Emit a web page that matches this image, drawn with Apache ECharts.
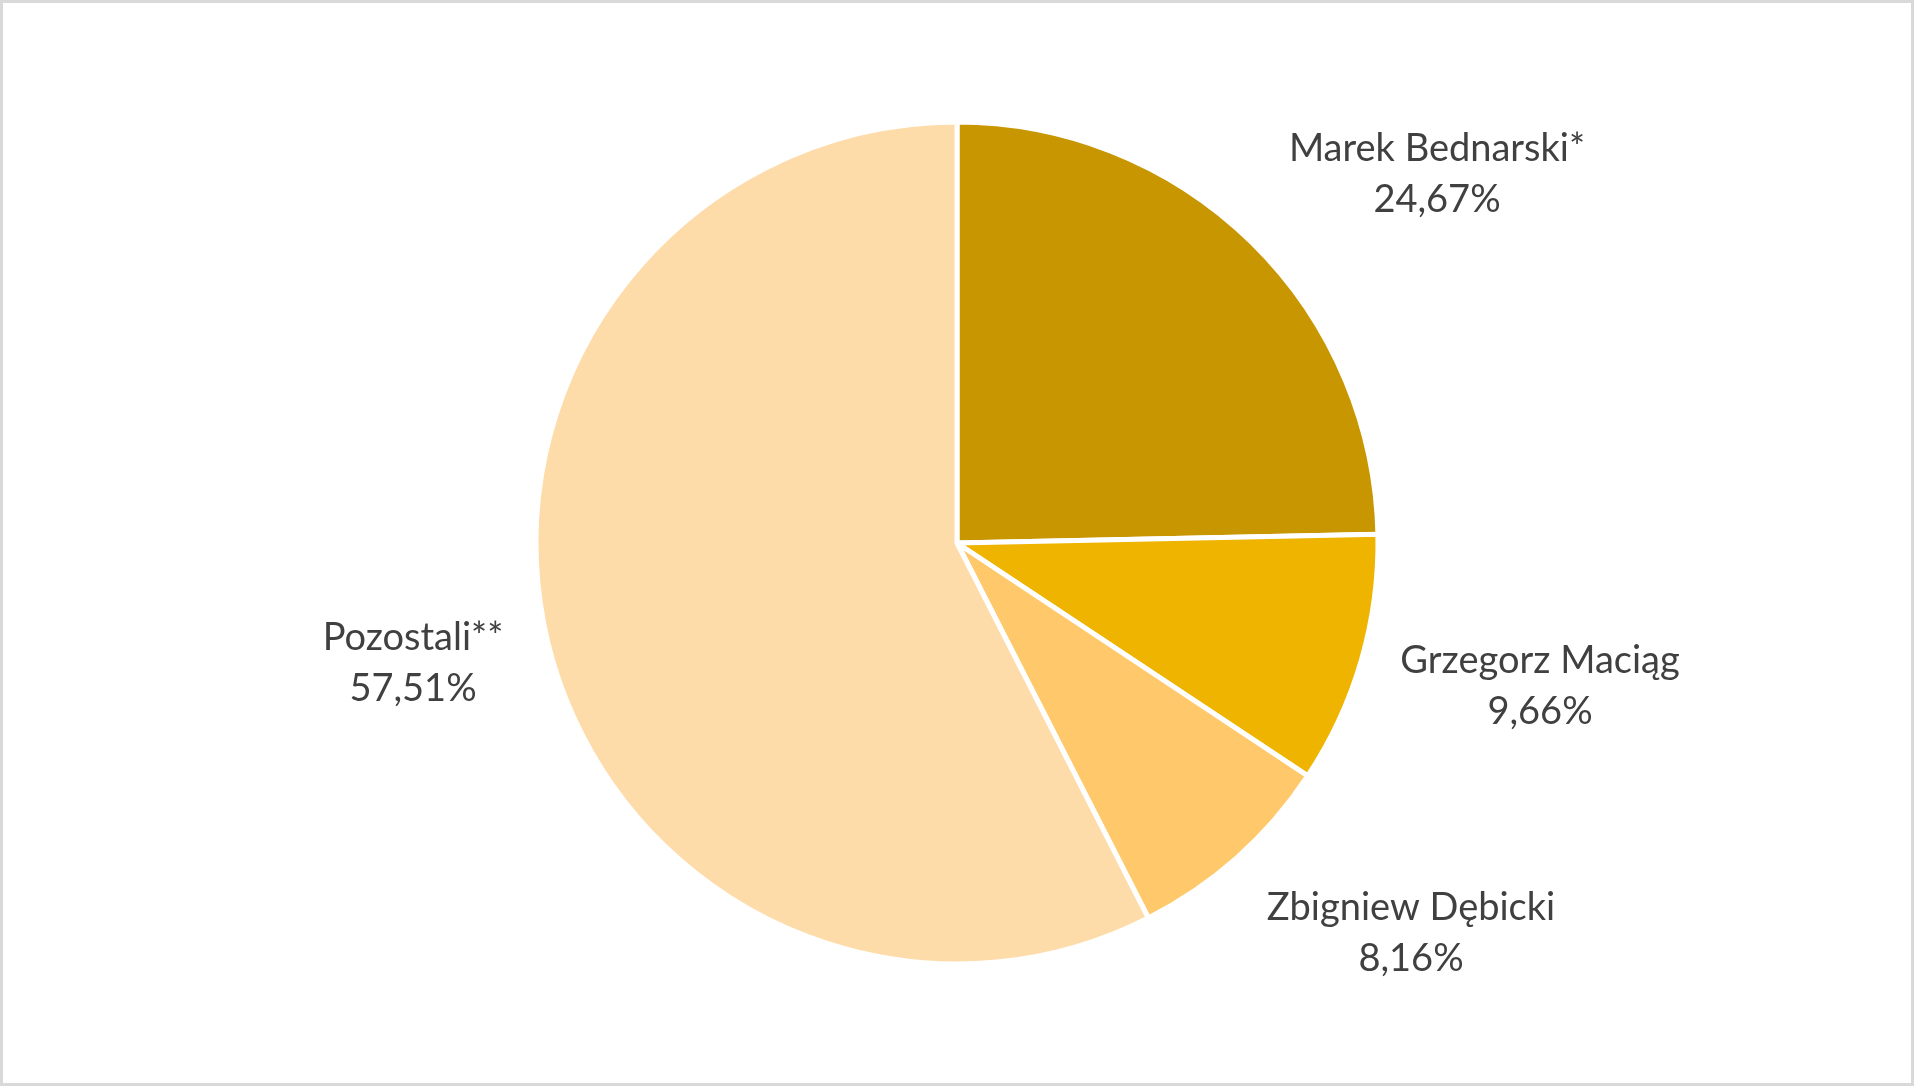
<!DOCTYPE html>
<html>
<head>
<meta charset="utf-8">
<script src="https://cdn.jsdelivr.net/npm/echarts@6/dist/echarts.min.js"></script>
<style>
html,body{margin:0;padding:0;background:#fff;}
#chart{width:1914px;height:1086px;}
</style>
</head>
<body>
<div id="chart"></div>
<script>
const categories = ['Marek Bednarski*', 'Grzegorz Maciąg', 'Zbigniew Dębicki', 'Pozostali**'];
const shares = [24.67, 9.66, 8.16, 57.51];
const colors = ['#C89600', '#EFB400', '#FFC96B', '#FEDCAA'];

// label anchor points (layout, not data)
const labelPos = [[1437, 174], [1540, 686], [1411, 933], [413, 663]];

const chart = echarts.init(document.getElementById('chart'), null, {renderer: 'canvas'});
chart.setOption({
  backgroundColor: '#ffffff',
  animation: false,
  graphic: [{
    type: 'rect',
    shape: {x: 1.5, y: 1.5, width: 1911, height: 1083},
    style: {fill: 'none', stroke: '#d9d9d9', lineWidth: 3},
    silent: true
  }],
  series: [{
    type: 'pie',
    center: [957, 543],
    radius: 421,
    startAngle: 90,
    clockwise: true,
    avoidLabelOverlap: false,
    data: categories.map((c, i) => ({name: c, value: shares[i], itemStyle: {color: colors[i]}})),
    itemStyle: {borderColor: '#ffffff', borderWidth: 5},
    label: {
      show: true,
      position: 'outside',
      formatter: p => p.name + '\n' + p.value.toFixed(2).replace('.', ',') + '%',
      color: '#404040',
      fontFamily: 'Lato',
      fontSize: 38,
      lineHeight: 51,
      align: 'center'
    },
    labelLine: {show: false},
    labelLayout: function (params) {
      const p = labelPos[params.dataIndex];
      return {x: p[0], y: p[1], align: 'center', verticalAlign: 'middle'};
    },
    emphasis: {disabled: true}
  }]
});
</script>
</body>
</html>
